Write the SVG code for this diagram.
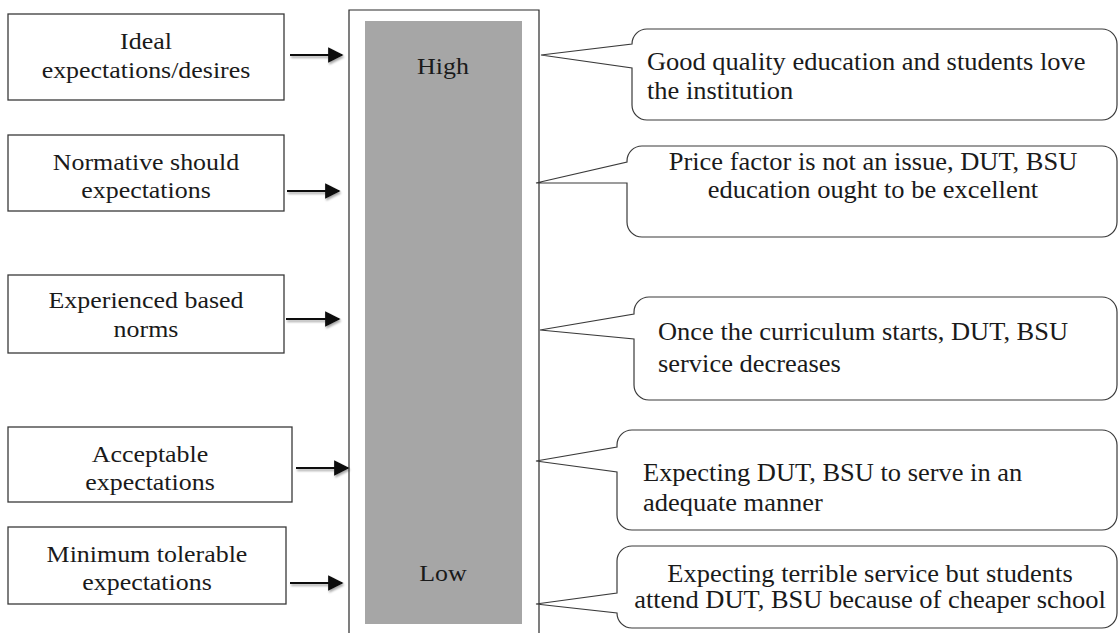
<svg xmlns="http://www.w3.org/2000/svg" width="1120" height="633" viewBox="0 0 1120 633">
  <defs>
    <style>
      text { font-family: "Liberation Serif", "DejaVu Serif", "Times New Roman", serif; fill: #1a1a1a; }
      .box { fill: #ffffff; stroke: #3a3a3a; stroke-width: 1.3; }
      .bubble { fill: #ffffff; stroke: #3a3a3a; stroke-width: 1.2; stroke-linejoin: miter; }
      .bt { font-size: 24px; text-anchor: middle; }
      .ct { font-size: 24.5px; }
      .mid { text-anchor: middle; }
      .arrow { stroke: #111111; stroke-width: 2.2; fill: none; marker-end: url(#head); }
    </style>
    <marker id="head" viewBox="0 0 10 10" refX="9" refY="5" markerWidth="7" markerHeight="7" markerUnits="strokeWidth" orient="auto">
      <path d="M0,0 L10,5 L0,10 Z" fill="#111111"/>
    </marker>
    <filter id="soft" x="-10%" y="-50%" width="120%" height="200%">
      <feGaussianBlur in="SourceAlpha" stdDeviation="1.2"/>
      <feOffset dx="1" dy="1.5" result="b"/>
      <feComponentTransfer><feFuncA type="linear" slope="0.35"/></feComponentTransfer>
      <feMerge><feMergeNode/><feMergeNode in="SourceGraphic"/></feMerge>
    </filter>
  </defs>

  <rect width="1120" height="633" fill="#ffffff"/>

  <!-- scale column: open frame with shaded bar (labels set slightly wide) -->
  <g id="scale">
    <path d="M349,633 V10 H539 V633" fill="none" stroke="#2a2a2a" stroke-width="1.2"/>
    <rect x="365" y="21" width="157" height="603" fill="#a6a6a6"/>
    <g transform="scale(1.08 1)">
      <text class="mid" x="410.19" y="74" font-size="24">High</text>
      <text class="mid" x="410.19" y="581" font-size="24">Low</text>
    </g>
  </g>

  <!-- expectation level boxes -->
  <g id="ideal">
    <rect class="box" x="8" y="14" width="276" height="86"/>
    <g transform="scale(1.08 1)">
      <text class="bt" x="135.19" y="49">Ideal</text>
      <text class="bt" x="135.19" y="78">expectations/desires</text>
    </g>
  </g>
  <g id="normative">
    <rect class="box" x="8" y="135" width="276" height="76"/>
    <g transform="scale(1.08 1)">
      <text class="bt" x="135.19" y="170">Normative should</text>
      <text class="bt" x="135.19" y="198">expectations</text>
    </g>
  </g>
  <g id="experienced">
    <rect class="box" x="8" y="275" width="276" height="78"/>
    <g transform="scale(1.08 1)">
      <text class="bt" x="135.19" y="308">Experienced based</text>
      <text class="bt" x="135.19" y="337">norms</text>
    </g>
  </g>
  <g id="acceptable">
    <rect class="box" x="8" y="427" width="284" height="75"/>
    <g transform="scale(1.08 1)">
      <text class="bt" x="138.89" y="462">Acceptable</text>
      <text class="bt" x="138.89" y="490">expectations</text>
    </g>
  </g>
  <g id="minimum">
    <rect class="box" x="8" y="527" width="278" height="77"/>
    <g transform="scale(1.08 1)">
      <text class="bt" x="136.11" y="562">Minimum tolerable</text>
      <text class="bt" x="136.11" y="590">expectations</text>
    </g>
  </g>

  <!-- connectors from boxes to the scale -->
  <g id="connectors" filter="url(#soft)">
    <line class="arrow" x1="290" y1="55" x2="342" y2="55"/>
    <line class="arrow" x1="287" y1="191" x2="339" y2="191"/>
    <line class="arrow" x1="286" y1="319" x2="339" y2="319"/>
    <line class="arrow" x1="296" y1="468" x2="348" y2="468"/>
    <line class="arrow" x1="290" y1="583" x2="342" y2="583"/>
  </g>

  <!-- callouts pointing at the scale -->
  <g id="callout-good">
    <path class="bubble" d="M647,29 H1102 A15,15 0 0 1 1117,44 V105 A15,15 0 0 1 1102,120 H647 A15,15 0 0 1 632,105 V68 L541,55 L632,44 A15,15 0 0 1 647,29 Z"/>
    <g transform="scale(1.08 1)">
      <text class="ct" x="599.07" y="70">Good quality education and students love</text>
      <text class="ct" x="599.07" y="99">the institution</text>
    </g>
  </g>
  <g id="callout-price">
    <path class="bubble" d="M642,146 H1102 A15,15 0 0 1 1117,161 V222 A15,15 0 0 1 1102,237 H642 A15,15 0 0 1 627,222 V183 L536,183 L627,162 V161 A15,15 0 0 1 642,146 Z"/>
    <g transform="scale(1.08 1)">
      <text class="ct mid" x="808.33" y="170">Price factor is not an issue, DUT, BSU</text>
      <text class="ct mid" x="808.33" y="198">education ought to be excellent</text>
    </g>
  </g>
  <g id="callout-curriculum">
    <path class="bubble" d="M649,297 H1102 A15,15 0 0 1 1117,312 V385 A15,15 0 0 1 1102,400 H649 A15,15 0 0 1 634,385 V339 L540,330 L634,314 V312 A15,15 0 0 1 649,297 Z"/>
    <g transform="scale(1.08 1)">
      <text class="ct" x="609.26" y="340">Once the curriculum starts, DUT, BSU</text>
      <text class="ct" x="609.26" y="372">service decreases</text>
    </g>
  </g>
  <g id="callout-adequate">
    <path class="bubble" d="M632,430 H1102 A15,15 0 0 1 1117,445 V515 A15,15 0 0 1 1102,530 H632 A15,15 0 0 1 617,515 V472 L536,461 L617,447 V445 A15,15 0 0 1 632,430 Z"/>
    <g transform="scale(1.08 1)">
      <text class="ct" x="595.37" y="481">Expecting DUT, BSU to serve in an</text>
      <text class="ct" x="595.37" y="511">adequate manner</text>
    </g>
  </g>
  <g id="callout-terrible">
    <path class="bubble" d="M632,546 H1102 A15,15 0 0 1 1117,561 V613 A15,15 0 0 1 1102,628 H632 A15,15 0 0 1 617,613 L536,604 L617,593 V561 A15,15 0 0 1 632,546 Z"/>
    <g transform="scale(1.08 1)">
      <text class="ct mid" x="805.56" y="582">Expecting terrible service but students</text>
      <text class="ct mid" x="805.56" y="608">attend DUT, BSU because of cheaper school</text>
    </g>
  </g>
</svg>
